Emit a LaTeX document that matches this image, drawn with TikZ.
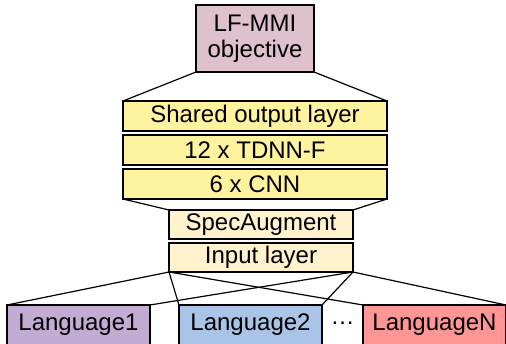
\documentclass[tikz,border=0pt]{standalone}
\usepackage{fontspec}
\setmainfont{Liberation Sans}
\usetikzlibrary{positioning}
\definecolor{objpink}{RGB}{222,193,205}
\definecolor{layeryellow}{RGB}{255,243,160}
\definecolor{inputcream}{RGB}{255,242,204}
\definecolor{langpurple}{RGB}{195,172,212}
\definecolor{langblue}{RGB}{170,196,232}
\definecolor{langred}{RGB}{255,150,150}
\begin{document}
\begin{tikzpicture}[x=1pt, y=-1pt, line width=1.2pt, node distance=4pt,
	txt/.style = {inner sep=0pt, outer sep=0pt, font=\fontsize{24}{26}\selectfont, align=center},
	box/.style = {txt, draw},
	layer/.style = {box, fill=layeryellow, minimum width=264pt, minimum height=30pt},
	inlayer/.style = {box, fill=inputcream, minimum width=184pt, minimum height=29pt},
	lang/.style = {box, minimum width=143pt, minimum height=40pt}]
		\useasboundingbox (0,0) rectangle (506,343);
		\clip (0,0) rectangle (506,343);
		%% NODES
		% Objective
		\node[box, fill=objpink, minimum width=118pt, minimum height=67pt] (obj) at (255,38.5) {LF-MMI\\objective};
		% Shared stack
		\node[layer] (out) at (255,116) {Shared output layer};
		\node[layer, below=of out] (tdnn) {12 x TDNN-F};
		\node[layer, below=of tdnn] (cnn) {6 x CNN};
		% Input stack
		\node[inlayer] (spec) at (261,224.5) {SpecAugment};
		\node[inlayer, below=of spec] (inp) {Input layer};
		% Languages
		\node[lang, fill=langpurple] (lang1) at (78.5,325) {Language1};
		\node[lang, fill=langblue] (lang2) at (250.5,325) {Language2};
		\node[txt] (dots) at (342.5,323) {…};
		\node[lang, fill=langred] (langN) at (434.5,325) {LanguageN};
		%% LINES
		% Objective to stack.
		\draw (obj.south west) -- (out.north west);
		\draw (obj.south east) -- (out.north east);
		% Stack to input.
		\draw (cnn.south west) -- (spec.north west);
		\draw (cnn.south east) -- (spec.north east);
		% Input to languages.
		\draw (inp.south west) -- (lang1.north west);
		\draw (inp.south east) -- (lang1.north east);
		\draw (inp.south west) -- (lang2.north west);
		\draw (inp.south east) -- (lang2.north east);
		\draw (inp.south west) -- (langN.north west);
		\draw (inp.south east) -- (langN.north east);
	\end{tikzpicture}
\end{document}
